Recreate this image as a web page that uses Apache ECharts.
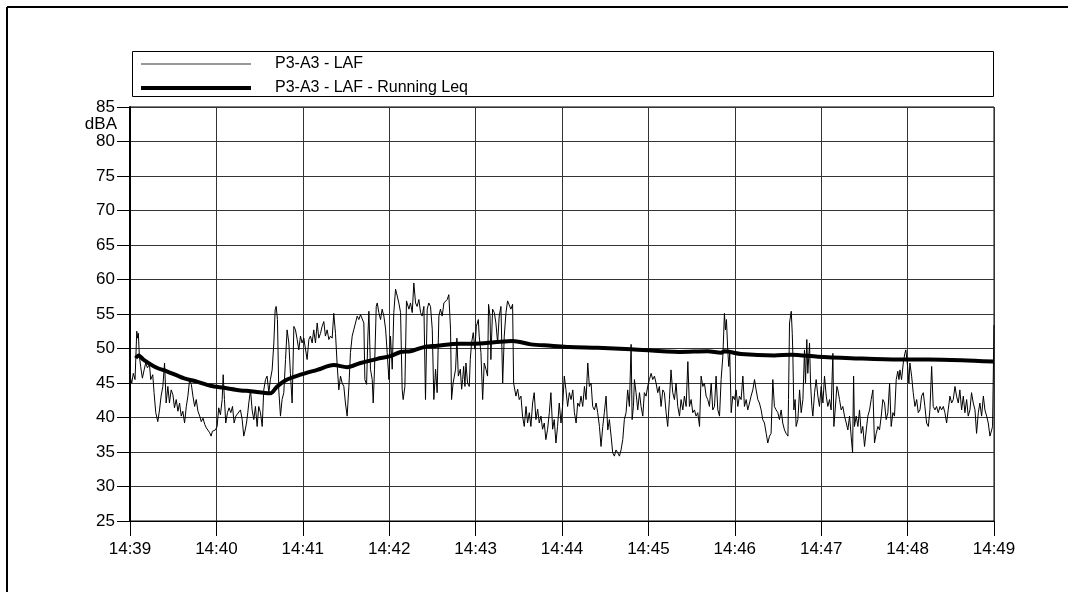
<!DOCTYPE html>
<html>
<head>
<meta charset="utf-8">
<title>P3-A3 - LAF</title>
<script src="https://cdn.jsdelivr.net/npm/echarts@6/dist/echarts.min.js"></script>
<style>
  html, body { margin: 0; padding: 0; background: #fff; }
  #chart { width: 1068px; height: 592px; }
</style>
</head>
<body>
<div id="chart"></div>
<script>
// Time in seconds after 14:39:00, level in dBA
const lafSeconds = [
  0, 1.2, 2.3, 3.5, 4.7, 5.3, 5.8, 6.5, 7.4, 8.6, 9.8, 10.9, 12.1, 13.5, 14.4, 15.8, 16.7, 17.9, 19.3, 20.5,
  21.6, 22.8, 24.0, 25.1, 26.3, 27.4, 28.6, 29.8, 30.9, 32.1, 33.3, 34.4, 35.6, 36.7, 37.9, 39.1, 40.2, 41.4, 42.6, 43.7,
  44.9, 46.0, 47.2, 48.4, 49.5, 50.7, 51.9, 53.0, 54.2, 55.3, 56.3, 57.2, 58.1, 59.3, 60.5, 61.6, 62.8, 64.0, 64.7, 65.6,
  66.5, 67.7, 68.8, 70.0, 71.2, 72.3, 73.5, 76.7, 77.9, 79.0, 80.0, 80.9, 81.8, 82.5, 83.7, 84.8, 86.0, 87.1, 88.3, 89.4,
  90.6, 91.8, 92.9, 94.1, 95.2, 96.4, 97.5, 98.7, 99.9, 100.8, 101.5, 102.4, 103.3, 104.5, 105.6, 106.8, 108.0, 109.1, 110.3, 111.4,
  112.6, 113.8, 114.9, 116.1, 117.2, 118.4, 119.5, 120.7, 121.9, 123.0, 124.2, 125.3, 126.5, 127.6, 128.8, 130.0, 131.1, 132.3, 133.4, 134.6,
  135.7, 136.9, 138.1, 139.2, 140.4, 141.5, 142.7, 143.8, 145.0, 146.2, 147.3, 148.5, 149.6, 150.8, 152.0, 153.1, 154.3, 155.5, 156.6, 157.8,
  158.9, 160.1, 161.3, 162.4, 163.1, 164.3, 165.2, 165.9, 167.0, 168.2, 168.9, 169.8, 171.0, 171.7, 172.8, 174.0, 175.1, 176.3, 177.5, 178.6,
  179.8, 180.9, 182.1, 183.2, 184.4, 185.6, 186.7, 187.9, 189.0, 189.7, 190.9, 192.0, 193.7, 194.8, 196.0, 197.1, 198.3, 199.4, 200.6, 201.8,
  202.9, 204.1, 205.2, 206.4, 207.5, 208.7, 209.9, 211.0, 212.2, 213.3, 214.5, 215.6, 216.8, 218.0, 219.1, 220.3, 221.4, 222.6, 223.3, 224.4,
  226.1, 227.0, 228.0, 229.4, 230.3, 231.0, 231.7, 232.6, 233.3, 234.4, 235.6, 236.3, 237.2, 238.4, 239.5, 240.5, 241.9, 242.5, 243.7, 244.9,
  246.0, 247.2, 248.3, 249.0, 250.0, 250.6, 251.8, 253.0, 254.1, 255.3, 256.4, 257.6, 258.8, 259.9, 261.1, 262.2, 263.4, 264.5, 265.7, 266.4,
  267.3, 268.0, 269.2, 270.3, 271.5, 272.6, 273.8, 275.0, 276.1, 277.3, 278.4, 279.6, 280.7, 281.9, 283.1, 284.2, 285.4, 286.5, 287.7, 288.8,
  290.0, 291.2, 292.3, 293.5, 294.6, 295.8, 296.9, 298.1, 299.3, 300.4, 301.6, 302.7, 303.9, 305.1, 306.3, 307.5, 308.6, 309.8, 310.9, 312.1,
  313.2, 314.4, 315.6, 316.7, 317.9, 319.0, 320.2, 321.3, 322.5, 323.7, 324.8, 326.0, 327.1, 328.3, 329.4, 330.6, 331.8, 332.9, 334.1, 335.2,
  336.4, 337.5, 338.7, 339.9, 341.0, 342.2, 343.3, 344.5, 345.6, 346.8, 348.0, 348.7, 349.6, 350.3, 351.4, 352.6, 353.8, 354.9, 356.1, 357.2,
  358.4, 359.5, 360.7, 361.9, 363.0, 364.2, 365.3, 366.5, 367.6, 368.8, 370.0, 371.1, 372.3, 373.4, 374.6, 375.7, 376.9, 378.1, 379.2, 380.4,
  381.6, 382.7, 383.9, 385.0, 386.2, 387.4, 388.5, 389.7, 390.8, 392.0, 393.1, 394.3, 395.5, 396.6, 397.8, 398.9, 400.1, 401.2, 402.4, 403.6,
  404.7, 405.9, 407.0, 408.2, 409.4, 410.5, 411.7, 412.8, 413.5, 414.2, 415.1, 415.8, 416.5, 417.5, 418.6, 419.8, 420.9, 422.1, 423.2, 424.4,
  425.6, 426.7, 427.9, 429.0, 430.2, 431.3, 432.5, 433.7, 434.8, 436.0, 437.1, 438.3, 439.4, 440.6, 441.8, 442.9, 444.1, 445.2, 446.4, 447.5,
  448.7, 449.9, 451.0, 452.2, 453.3, 454.5, 455.6, 456.9, 457.3, 458.0, 459.2, 459.9, 460.3, 461.0, 461.9, 462.6, 463.8, 465.0, 466.1, 467.3,
  468.4, 469.1, 470.0, 470.7, 471.9, 472.6, 473.5, 474.2, 475.4, 476.5, 477.7, 478.8, 480.0, 481.2, 482.3, 483.5, 484.6, 485.8, 486.9, 488.1,
  488.8, 489.7, 490.9, 491.6, 492.7, 493.9, 495.0, 496.2, 497.4, 498.5, 499.7, 500.8, 501.8, 502.5, 503.1, 504.3, 505.5, 506.6, 507.8, 508.9,
  510.1, 511.3, 512.4, 513.6, 514.7, 515.9, 517.0, 518.2, 519.4, 520.5, 521.7, 522.8, 524.0, 525.1, 526.3, 527.5, 528.6, 529.8, 530.9, 532.1,
  533.2, 534.0, 534.7, 535.8, 537.0, 538.1, 538.8, 540.0, 540.9, 541.6, 542.8, 543.9, 545.1, 546.3, 547.4, 548.6, 549.7, 550.9, 552.0, 553.2,
  554.4, 555.5, 556.7, 557.8, 559.0, 560.1, 561.3, 562.5, 563.6, 564.8, 565.9, 567.1, 568.2, 569.4, 570.6, 571.7, 572.9, 574.0, 575.2, 576.3,
  577.5, 578.7, 579.8, 581.0, 582.1, 583.3, 584.4, 585.6, 586.8, 587.9, 589.1, 590.2, 591.4, 592.6, 593.7, 594.9, 596.0, 597.2, 598.4, 599.0,
  600
];
const lafLevels = [
  46.0, 45.0, 46.4, 45.5, 52.5, 51.5, 52.2, 48.9, 47.4, 45.7, 46.9, 47.9, 47.2, 47.7, 45.5, 46.2, 43.6, 40.7, 39.4, 41.1,
  43.1, 44.5, 47.9, 42.1, 44.5, 42.1, 44.0, 43.3, 41.4, 42.6, 40.9, 42.1, 40.2, 40.9, 39.2, 41.6, 43.1, 45.5, 44.8, 43.1,
  41.6, 42.6, 40.9, 40.2, 39.4, 39.9, 39.0, 38.5, 38.7, 37.8, 37.3, 38.0, 37.8, 38.2, 38.7, 41.4, 40.4, 42.6, 46.2, 42.6,
  39.2, 40.7, 41.4, 40.7, 41.6, 39.2, 40.2, 41.1, 39.7, 37.3, 38.2, 39.2, 40.7, 42.1, 44.0, 41.1, 39.7, 41.6, 38.7, 41.6,
  40.7, 38.7, 44.0, 45.5, 46.0, 43.6, 45.5, 46.9, 50.8, 55.6, 56.1, 54.2, 44.0, 40.2, 42.6, 43.6, 48.4, 52.7, 50.8, 46.4,
  42.1, 53.2, 52.7, 51.3, 49.8, 51.8, 50.8, 51.5, 51.3, 48.4, 51.3, 51.8, 50.8, 52.7, 50.8, 53.7, 51.5, 52.2, 53.2, 53.9,
  51.8, 52.7, 51.3, 51.8, 51.5, 55.1, 52.2, 47.9, 44.0, 46.0, 45.0, 44.5, 42.1, 40.2, 44.5, 49.4, 51.8, 52.8, 53.7, 54.7,
  54.2, 54.9, 54.7, 53.7, 45.5, 44.8, 51.8, 55.4, 47.0, 45.5, 42.1, 47.0, 56.1, 56.6, 55.2, 54.2, 55.7, 54.7, 52.8, 49.4,
  45.5, 51.8, 47.0, 55.2, 58.6, 57.6, 56.6, 55.2, 44.1, 42.6, 44.5, 56.9, 55.7, 56.6, 55.2, 59.5, 56.6, 56.1, 57.1, 55.2,
  54.7, 56.1, 42.6, 55.7, 56.6, 56.1, 52.8, 42.6, 47.0, 43.6, 54.7, 55.7, 54.7, 56.6, 56.6, 57.1, 57.8, 52.8, 42.6, 45.0,
  47.0, 51.5, 46.0, 47.0, 44.1, 45.5, 47.4, 44.5, 47.9, 45.0, 44.5, 48.4, 50.8, 52.3, 49.9, 53.2, 54.2, 51.8, 49.4, 42.6,
  47.9, 47.0, 46.0, 56.4, 54.7, 48.4, 55.7, 55.2, 53.7, 50.8, 54.7, 56.1, 45.0, 51.8, 55.2, 56.9, 57.1, 55.7, 56.4, 45.0,
  45.0, 43.1, 44.1, 42.6, 43.1, 40.2, 38.7, 41.6, 39.2, 40.7, 38.7, 42.1, 43.6, 39.7, 41.2, 39.2, 40.2, 38.3, 39.2, 36.8,
  38.3, 40.7, 43.6, 38.3, 39.7, 36.3, 38.7, 42.1, 39.2, 41.6, 46.0, 44.1, 41.6, 43.6, 42.6, 44.0, 40.7, 39.2, 42.1, 41.6,
  43.1, 41.6, 44.5, 42.6, 47.9, 44.5, 45.0, 41.6, 41.1, 42.1, 40.7, 38.7, 35.8, 38.7, 40.7, 43.1, 38.2, 39.7, 37.3, 34.9,
  34.4, 35.3, 34.9, 34.4, 35.3, 36.8, 39.7, 40.7, 44.0, 41.6, 50.6, 39.7, 41.6, 45.5, 43.6, 41.1, 43.6, 41.6, 40.2, 43.6,
  43.1, 44.5, 45.5, 46.4, 45.5, 46.0, 45.0, 43.6, 44.5, 41.6, 44.0, 43.6, 40.7, 38.7, 42.6, 46.9, 43.6, 42.6, 45.0, 41.6,
  40.2, 42.6, 41.1, 43.1, 41.6, 48.1, 41.6, 42.6, 40.7, 41.1, 40.2, 40.7, 38.7, 46.0, 44.5, 45.0, 43.1, 42.6, 41.6, 45.0,
  41.1, 41.6, 46.0, 41.1, 40.2, 45.5, 48.9, 55.1, 52.7, 54.2, 49.8, 47.4, 49.3, 40.7, 43.1, 42.6, 44.0, 41.6, 43.1, 42.6,
  46.0, 41.6, 42.6, 41.1, 42.1, 43.1, 44.0, 45.5, 44.0, 42.6, 42.1, 41.1, 39.7, 39.2, 37.7, 36.3, 37.3, 37.7, 45.5, 41.6,
  41.1, 40.7, 39.7, 41.1, 39.2, 38.2, 37.7, 37.3, 42.6, 53.7, 55.4, 52.2, 49.3, 41.1, 42.6, 38.7, 39.7, 44.0, 40.7, 42.6,
  49.8, 45.0, 51.3, 46.4, 50.8, 45.0, 41.6, 40.2, 43.6, 45.5, 43.1, 41.6, 44.5, 42.1, 46.0, 43.1, 41.6, 42.6, 41.1, 49.3,
  38.7, 41.1, 44.5, 44.0, 42.6, 41.1, 41.6, 40.2, 39.2, 38.2, 40.2, 37.3, 34.9, 46.0, 38.7, 40.2, 38.7, 41.1, 37.7, 38.7,
  35.8, 38.2, 40.2, 41.1, 42.6, 44.0, 36.3, 37.7, 38.7, 38.2, 40.2, 42.6, 42.1, 39.7, 40.7, 45.0, 38.7, 40.7, 40.2, 45.5,
  46.7, 45.5, 46.9, 45.5, 47.9, 49.3, 49.8, 47.4, 45.0, 47.9, 46.0, 43.6, 41.6, 42.6, 40.7, 41.1, 43.1, 43.6, 41.6, 39.2,
  38.7, 41.1, 47.4, 41.6, 41.1, 41.6, 40.7, 41.6, 41.1, 41.6, 40.7, 39.2, 41.1, 43.1, 42.1, 42.6, 44.5, 43.1, 42.1, 44.0,
  41.1, 43.1, 40.7, 42.6, 40.2, 41.1, 43.6, 42.1, 41.1, 37.7, 40.7, 42.1, 40.2, 43.1, 41.1, 40.2, 39.2, 37.3, 38.2, 38.7,
  53.4
];

// Running equivalent level
const leqSeconds = [4, 6, 9.3, 18.6, 25.6, 37.2, 46.5, 55.8, 65.1, 74.4, 83.7, 97.5, 102.2, 109.1, 118.4, 130.0, 141.5, 150.8,
  160.1, 171.7, 180.9, 187.9, 194.8, 204.1, 213.3, 228.4, 239.1, 253.0, 265.7, 278.4, 292.3, 305.0, 324.8, 348.0, 381.5,
  401.2, 410.5, 412.8, 424.4, 447.5, 459.2, 477.7, 500.8, 534.4, 554.4, 577.5, 599.7];
const leqLevels = [48.6, 49.0, 48.4, 47.2, 46.7, 45.7, 45.2, 44.6, 44.3, 44.0, 43.8, 43.5, 44.5, 45.5, 46.2, 46.9, 47.6, 47.3,
  47.9, 48.5, 48.9, 49.5, 49.6, 50.2, 50.4, 50.7, 50.7, 50.9, 51.1, 50.6, 50.4, 50.2, 50.1, 49.9, 49.5,
  49.6, 49.4, 49.6, 49.2, 49.0, 49.1, 48.8, 48.6, 48.4, 48.4, 48.3, 48.1];

const yTicks = { min: 25, max: 85, step: 5 };
const xTicks = { min: 0, max: 600, step: 60 };
const seriesNames = ['P3-A3 - LAF', 'P3-A3 - LAF - Running Leq'];

const zip = (xs, ys) => xs.map((x, i) => [x, ys[i]]);
const clockLabel = s => {
  const m = 39 + Math.round(s / 60);
  return '14:' + String(m).padStart(2, '0');
};

const FONT = '"Liberation Sans", Arial, sans-serif';
const chart = echarts.init(document.getElementById('chart'), null, { renderer: 'canvas' });

chart.setOption({
  animation: false,
  backgroundColor: '#fff',
  grid: { left: 130, right: 74, top: 107, bottom: 71, show: true, borderColor: '#000', borderWidth: 1 },
  legend: {
    orient: 'vertical',
    left: 136, top: 51,
    padding: 5,
    itemWidth: 110, itemHeight: 14, itemGap: 8,
    symbolKeepAspect: true,
    textStyle: { fontFamily: FONT, fontSize: 16, color: '#000', padding: [0, 0, 0, 19] },
    selectedMode: false,
    data: [
      { name: seriesNames[0], icon: 'path://M0 0H110V1H0Z', itemStyle: { color: '#333' } },
      { name: seriesNames[1], icon: 'path://M0 0H110V4H0Z', itemStyle: { color: '#000' } }
    ]
  },
  xAxis: {
    type: 'value',
    min: xTicks.min, max: xTicks.max, interval: xTicks.step,
    axisLine: { show: true, lineStyle: { color: '#000', width: 1 } },
    axisTick: { show: true, inside: false, length: 15, lineStyle: { color: '#000' } },
    axisLabel: { formatter: clockLabel, fontFamily: FONT, fontSize: 17, color: '#000', margin: 20 },
    splitLine: { show: true, lineStyle: { color: '#333', width: 1 } }
  },
  yAxis: {
    type: 'value',
    min: yTicks.min, max: yTicks.max, interval: yTicks.step,
    axisLine: { show: true, lineStyle: { color: '#000', width: 2 } },
    axisTick: { show: true, inside: false, length: 13, lineStyle: { color: '#000' } },
    axisLabel: { fontFamily: FONT, fontSize: 17, color: '#000', margin: 15 },
    splitLine: { show: true, lineStyle: { color: '#333', width: 1 } }
  },
  graphic: [
    // outer frame (left and top edges)
    { type: 'line', shape: { x1: 7, y1: 7, x2: 1068, y2: 7 }, style: { stroke: '#000', lineWidth: 2 } },
    { type: 'line', shape: { x1: 7, y1: 7, x2: 7, y2: 592 }, style: { stroke: '#000', lineWidth: 2 } },
    // legend frame
    { type: 'rect', shape: { x: 132.5, y: 51.5, width: 861, height: 45 }, style: { fill: 'none', stroke: '#000', lineWidth: 1 }, z: 0 },
    // unit label under the top tick
    { type: 'text', right: 1068 - 117, top: 116, style: { text: 'dBA', font: '17px ' + FONT, fill: '#000', textAlign: 'right' } }
  ],
  series: [
    {
      name: seriesNames[0], type: 'line', data: zip(lafSeconds, lafLevels),
      showSymbol: false, symbol: 'none', lineStyle: { color: '#000', width: 1 }, itemStyle: { color: '#000' }, z: 2
    },
    {
      name: seriesNames[1], type: 'line', data: zip(leqSeconds, leqLevels),
      showSymbol: false, symbol: 'none', smooth: 0.3, lineStyle: { color: '#000', width: 4 }, itemStyle: { color: '#000' }, z: 3
    }
  ]
});
</script>
</body>
</html>
